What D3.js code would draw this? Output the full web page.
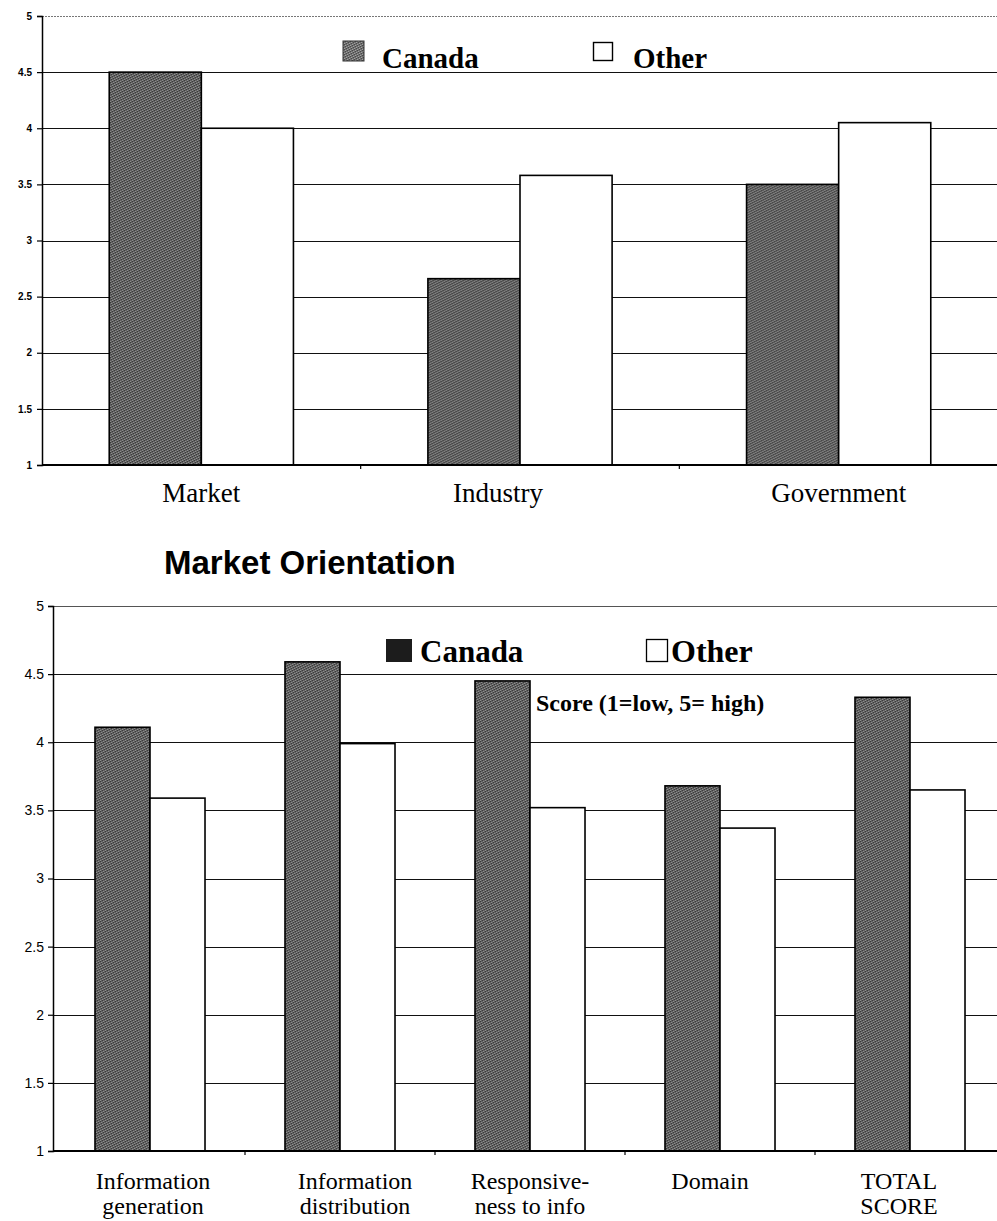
<!DOCTYPE html>
<html>
<head>
<meta charset="utf-8">
<script src="https://cdn.jsdelivr.net/npm/d3@7"></script>
<style>
  html, body { margin: 0; padding: 0; background: #fff; }
  svg { display: block; }
</style>
</head>
<body>
<script>
// Series and categories
const seriesNames = ["Canada", "Other"];

const topCategories = ["Market", "Industry", "Government"];
const topCanada = [4.5, 2.66, 3.5];
const topOther = [4.0, 3.58, 4.05];

const bottomTitle = "Market Orientation";
const bottomCategories = ["Information generation", "Information distribution", "Responsive-ness to info", "Domain", "TOTAL SCORE"];
const bottomLabelLines = [["Information", "generation"], ["Information", "distribution"], ["Responsive-", "ness to info"], ["Domain"], ["TOTAL", "SCORE"]];
const bottomCanada = [4.11, 4.59, 4.45, 3.68, 4.33];
const bottomOther = [3.59, 3.99, 3.52, 3.37, 3.65];

const topTickValues = [1, 1.5, 2, 2.5, 3, 3.5, 4, 4.5, 5];
const topTickLabels = ["1", "1.5", "2", "2.5", "3", "3.5", "4", "4.5", "5"];
const bottomTickValues = [1, 1.5, 2, 2.5, 3, 3.5, 4, 4.5, 5];
const bottomTickLabels = ["1", "1.5", "2", "2.5", "3", "3.5", "4", "4.5", "5"];

const scoreNote = "Score (1=low, 5= high)";

const W = 997, H = 1221;
const svg = d3.select("body").append("svg").attr("width", W).attr("height", H);

// Halftone-like texture for the dark bars
const defs = svg.append("defs");
function texture(id, base, light, dark) {
  const p = defs.append("pattern").attr("id", id).attr("patternUnits", "userSpaceOnUse")
    .attr("width", 5).attr("height", 5);
  p.append("rect").attr("width", 5).attr("height", 5).attr("fill", base);
  [[0, 0], [3, 1], [1, 2], [4, 3], [2, 4]].forEach(([x, y]) =>
    p.append("rect").attr("x", x).attr("y", y).attr("width", 1).attr("height", 1).attr("fill", light));
  [[2, 0], [0, 1], [3, 2], [1, 3], [4, 4]].forEach(([x, y]) =>
    p.append("rect").attr("x", x).attr("y", y).attr("width", 1).attr("height", 1).attr("fill", dark));
}
texture("barTex", "#626262", "#8e8e8e", "#3a3a3a");
texture("swatchTex", "#707070", "#a0a0a0", "#484848");

const serif = "'Liberation Serif', 'Times New Roman', serif";
const sans = "'Liberation Sans', Arial, sans-serif";

function drawChart(cfg) {
  const g = svg.append("g");
  const y = d3.scaleLinear().domain([1, 5]).range([cfg.bottom, cfg.top]);
  const x0 = d3.scaleBand().domain(cfg.categories).range([cfg.left, cfg.right]).padding(0);
  const x1 = d3.scaleBand().domain(seriesNames).range([0, x0.bandwidth()])
    .paddingInner(0).paddingOuter(cfg.groupPad);

  // horizontal gridlines
  g.append("g").selectAll("line").data(cfg.tickValues).join("line")
    .attr("x1", cfg.axisX).attr("x2", W)
    .attr("y1", d => Math.round(y(d)) + 0.5).attr("y2", d => Math.round(y(d)) + 0.5)
    .attr("stroke", d => d === 5 ? cfg.topLineColor : "#111")
    .attr("stroke-width", 1.2)
    .attr("stroke-dasharray", d => d === 5 ? cfg.topLineDash : null);

  // bars
  const rows = cfg.categories.map((c, i) => ({ c, vals: [cfg.canada[i], cfg.other[i]] }));
  const grp = g.append("g").selectAll("g").data(rows).join("g")
    .attr("transform", d => `translate(${x0(d.c)},0)`);
  grp.selectAll("rect").data(d => d.vals.map((v, k) => ({ v, s: seriesNames[k] }))).join("rect")
    .attr("x", d => x1(d.s))
    .attr("width", x1.bandwidth())
    .attr("y", d => y(d.v))
    .attr("height", d => y(1) - y(d.v))
    .attr("fill", d => d.s === "Canada" ? "url(#barTex)" : "#fff")
    .attr("stroke", "#000")
    .attr("stroke-width", 1.6);

  // y axis
  const yAxis = d3.axisLeft(y).tickValues(cfg.tickValues)
    .tickFormat((d, i) => cfg.tickLabels[i]).tickSize(5).tickPadding(cfg.tickPad);
  const ya = g.append("g").attr("transform", `translate(${cfg.axisX},0)`).call(yAxis);
  ya.select(".domain").attr("stroke", "#000").attr("stroke-width", 1.5);
  ya.selectAll(".tick line").attr("stroke", "#000").attr("stroke-width", 1.2);
  ya.selectAll(".tick text").attr("font-family", sans).attr("font-size", cfg.tickFont)
    .attr("font-weight", cfg.tickWeight).attr("fill", "#000");

  // x axis baseline with small ticks at category boundaries
  const xa = g.append("g").attr("transform", `translate(0,${cfg.bottom})`);
  xa.append("line").attr("x1", cfg.axisX).attr("x2", W).attr("y1", 0).attr("y2", 0)
    .attr("stroke", "#000").attr("stroke-width", 2);
  xa.selectAll(".xt").data(cfg.categories.slice(1)).join("line").attr("class", "xt")
    .attr("x1", d => x0(d)).attr("x2", d => x0(d)).attr("y1", 0).attr("y2", 4)
    .attr("stroke", "#000").attr("stroke-width", 1.2);

  return { g, x0, y };
}

// ---------- Top chart ----------
const topChart = drawChart({
  categories: topCategories, canada: topCanada, other: topOther,
  axisX: 42, left: 42, right: 998, top: 16, bottom: 465, groupPad: 0.73,
  tickValues: topTickValues, tickLabels: topTickLabels,
  tickFont: 10, tickWeight: "bold", tickPad: 5,
  topLineColor: "#777", topLineDash: "2,1"
});
const topLabelShift = { Industry: -22 };
topChart.g.append("g").selectAll("text").data(topCategories).join("text")
  .attr("x", d => topChart.x0(d) + topChart.x0.bandwidth() / 2 + (topLabelShift[d] || 0))
  .attr("y", 502)
  .attr("text-anchor", "middle")
  .attr("font-family", serif).attr("font-size", 27)
  .text(d => d);

// top legend
const tl = svg.append("g");
tl.append("rect").attr("x", 343).attr("y", 41).attr("width", 21).attr("height", 20)
  .attr("fill", "url(#swatchTex)").attr("stroke", "#333").attr("stroke-width", 1);
tl.append("text").attr("x", 382).attr("y", 68).attr("font-family", serif).attr("font-weight", "bold")
  .attr("font-size", 29).text(seriesNames[0]);
tl.append("rect").attr("x", 593.5).attr("y", 42.5).attr("width", 19).attr("height", 18)
  .attr("fill", "#fff").attr("stroke", "#000").attr("stroke-width", 1.4);
tl.append("text").attr("x", 633).attr("y", 68).attr("font-family", serif).attr("font-weight", "bold")
  .attr("font-size", 29).text(seriesNames[1]);

// ---------- Bottom chart ----------
svg.append("text").attr("x", 164).attr("y", 574)
  .attr("font-family", sans).attr("font-weight", "bold").attr("font-size", 33)
  .text(bottomTitle);

const botChart = drawChart({
  categories: bottomCategories, canada: bottomCanada, other: bottomOther,
  axisX: 53, left: 55, right: 1005, top: 606, bottom: 1151, groupPad: 0.727,
  tickValues: bottomTickValues, tickLabels: bottomTickLabels,
  tickFont: 14, tickWeight: "normal", tickPad: 4,
  topLineColor: "#555", topLineDash: null
});
const bottomLabelShift = { "Information generation": 3, "Information distribution": 15, "Domain": -10, "TOTAL SCORE": -11 };
const bl = botChart.g.append("g").selectAll("text").data(bottomCategories).join("text")
  .attr("text-anchor", "middle")
  .attr("font-family", serif).attr("font-size", 24);
bl.each(function (d, i) {
  const cx = botChart.x0(d) + botChart.x0.bandwidth() / 2 + (bottomLabelShift[d] || 0);
  d3.select(this).selectAll("tspan").data(bottomLabelLines[i]).join("tspan")
    .attr("x", cx).attr("y", (t, k) => 1189 + k * 25).text(t => t);
});

// bottom legend
const lg = svg.append("g");
lg.append("rect").attr("x", 386).attr("y", 639).attr("width", 26).attr("height", 23)
  .attr("fill", "#1c1c1c");
lg.append("text").attr("x", 420).attr("y", 662).attr("font-family", serif).attr("font-weight", "bold")
  .attr("font-size", 31).text(seriesNames[0]);
lg.append("rect").attr("x", 646.5).attr("y", 639.5).attr("width", 21).attr("height", 22)
  .attr("fill", "#fff").attr("stroke", "#000").attr("stroke-width", 1.3);
lg.append("text").attr("x", 671).attr("y", 662).attr("font-family", serif).attr("font-weight", "bold")
  .attr("font-size", 32).text(seriesNames[1]);

svg.append("text").attr("x", 536).attr("y", 711).attr("font-family", serif).attr("font-weight", "bold")
  .attr("font-size", 24).text(scoreNote);
</script>
</body>
</html>
